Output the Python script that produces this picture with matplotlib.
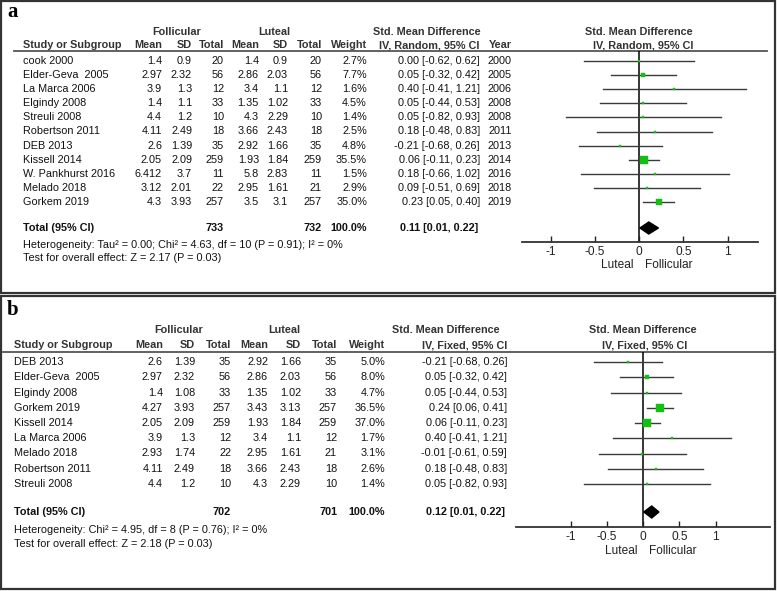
import matplotlib
matplotlib.use("Agg")
import matplotlib.pyplot as plt
from matplotlib.patches import Polygon, Rectangle

plt.rcParams['font.family'] = ['Liberation Sans', 'DejaVu Sans']

# ---------------- data: panel a (random effects) ----------------
studies_a = ["cook 2000", "Elder-Geva  2005", "La Marca 2006", "Elgindy 2008", "Streuli 2008",
             "Robertson 2011", "DEB 2013", "Kissell 2014", "W. Pankhurst 2016", "Melado 2018", "Gorkem 2019"]
fol_mean_a = ["1.4", "2.97", "3.9", "1.4", "4.4", "4.11", "2.6", "2.05", "6.412", "3.12", "4.3"]
fol_sd_a = ["0.9", "2.32", "1.3", "1.1", "1.2", "2.49", "1.39", "2.09", "3.7", "2.01", "3.93"]
fol_n_a = [20, 56, 12, 33, 10, 18, 35, 259, 11, 22, 257]
lut_mean_a = ["1.4", "2.86", "3.4", "1.35", "4.3", "3.66", "2.92", "1.93", "5.8", "2.95", "3.5"]
lut_sd_a = ["0.9", "2.03", "1.1", "1.02", "2.29", "2.43", "1.66", "1.84", "2.83", "1.61", "3.1"]
lut_n_a = [20, 56, 12, 33, 10, 18, 35, 259, 11, 21, 257]
weight_a = [2.7, 7.7, 1.6, 4.5, 1.4, 2.5, 4.8, 35.5, 1.5, 2.9, 35.0]
smd_a = [0.00, 0.05, 0.40, 0.05, 0.05, 0.18, -0.21, 0.06, 0.18, 0.09, 0.23]
lo_a = [-0.62, -0.32, -0.41, -0.44, -0.82, -0.48, -0.68, -0.11, -0.66, -0.51, 0.05]
hi_a = [0.62, 0.42, 1.21, 0.53, 0.93, 0.83, 0.26, 0.23, 1.02, 0.69, 0.40]
year_a = [2000, 2005, 2006, 2008, 2008, 2011, 2013, 2014, 2016, 2018, 2019]
total_a = (733, 732, 0.11, 0.01, 0.22)
het_a = "Heterogeneity: Tau\u00b2 = 0.00; Chi\u00b2 = 4.63, df = 10 (P = 0.91); I\u00b2 = 0%"
test_a = "Test for overall effect: Z = 2.17 (P = 0.03)"

# ---------------- data: panel b (fixed effects) ----------------
studies_b = ["DEB 2013", "Elder-Geva  2005", "Elgindy 2008", "Gorkem 2019", "Kissell 2014",
             "La Marca 2006", "Melado 2018", "Robertson 2011", "Streuli 2008"]
fol_mean_b = ["2.6", "2.97", "1.4", "4.27", "2.05", "3.9", "2.93", "4.11", "4.4"]
fol_sd_b = ["1.39", "2.32", "1.08", "3.93", "2.09", "1.3", "1.74", "2.49", "1.2"]
fol_n_b = [35, 56, 33, 257, 259, 12, 22, 18, 10]
lut_mean_b = ["2.92", "2.86", "1.35", "3.43", "1.93", "3.4", "2.95", "3.66", "4.3"]
lut_sd_b = ["1.66", "2.03", "1.02", "3.13", "1.84", "1.1", "1.61", "2.43", "2.29"]
lut_n_b = [35, 56, 33, 257, 259, 12, 21, 18, 10]
weight_b = [5.0, 8.0, 4.7, 36.5, 37.0, 1.7, 3.1, 2.6, 1.4]
smd_b = [-0.21, 0.05, 0.05, 0.24, 0.06, 0.40, -0.01, 0.18, 0.05]
lo_b = [-0.68, -0.32, -0.44, 0.06, -0.11, -0.41, -0.61, -0.48, -0.82]
hi_b = [0.26, 0.42, 0.53, 0.41, 0.23, 1.21, 0.59, 0.83, 0.93]
total_b = (702, 701, 0.12, 0.01, 0.22)
het_b = "Heterogeneity: Chi\u00b2 = 4.95, df = 8 (P = 0.76); I\u00b2 = 0%"
test_b = "Test for overall effect: Z = 2.18 (P = 0.03)"

tick_vals = [-1, -0.5, 0, 0.5, 1]
tick_labels = ["-1", "-0.5", "0", "0.5", "1"]

W, H = 777, 591
fig = plt.figure(figsize=(W / 100, H / 100), dpi=100)
ax0 = fig.add_axes([0, 0, 1, 1])
ax0.set_xlim(0, W)
ax0.set_ylim(H, 0)
ax0.axis('off')

FS = 7.8
AXFS = 8.6
GREEN = '#12c012'
LINE = '#3a3a3a'


def t(x, y, s, ha='left', bold=False, **kw):
    ax0.text(x, y, s, ha=ha, va='center', fontsize=kw.pop('fs', FS),
             fontweight='bold' if bold else 'normal', color=kw.pop('color', '#111111'), **kw)


def ci_str(m, l, h):
    return f"{m:.2f} [{l:.2f}, {h:.2f}]"


def panel(cfg):
    # border
    x0, y0, x1, y1 = cfg['border']
    ax0.add_patch(Rectangle((x0, y0), x1 - x0, y1 - y0, fill=False, lw=1.6, ec='#333333'))
    ax0.text(cfg['label_xy'][0], cfg['label_xy'][1], cfg['label'], fontsize=15, fontweight='bold',
             family=['Liberation Serif', 'DejaVu Serif'], ha='left', va='baseline')
    c = cfg['cols']
    r0, dr = cfg['row0'], cfg['dr']
    rowy = lambda i: r0 + dr * i
    # group headers
    t(cfg['fol_c'], cfg['grp_y'], "Follicular", ha='center', bold=True, color='#333333')
    t(cfg['lut_c'], cfg['grp_y'], "Luteal", ha='center', bold=True, color='#333333')
    t(cfg['smd_hdr'][0], cfg['grp_y'], "Std. Mean Difference", ha='center', bold=True, color='#333333')
    t(cfg['plot_c'], cfg['grp_y'], "Std. Mean Difference", ha='center', bold=True, color='#333333')
    hy = cfg['hdr_y']
    t(c['study'], hy, "Study or Subgroup", bold=True, color='#333333')
    for key, lab in [('fm', 'Mean'), ('fs', 'SD'), ('fn', 'Total'), ('lm', 'Mean'), ('ls', 'SD'),
                     ('ln', 'Total'), ('w', 'Weight')]:
        t(c[key], hy, lab, ha='right', bold=True, color='#333333')
    t(cfg['smd_hdr'][1], hy, cfg['method'], ha='center', bold=True, color='#333333')
    if cfg.get('year') is not None:
        t(c['year'], hy, "Year", ha='right', bold=True, color='#333333')
    t(cfg['plot_c2'], hy, cfg['method'], ha='center', bold=True, color='#333333')
    ax0.plot([cfg['hline'][0], cfg['hline'][1]], [cfg['hline_y']] * 2, color='#555555', lw=1.3)

    d = cfg['data']
    n = len(d['studies'])
    for i in range(n):
        y = rowy(i)
        t(c['study'], y, d['studies'][i])
        t(c['fm'], y, d['fm'][i], ha='right')
        t(c['fs'], y, d['fs'][i], ha='right')
        t(c['fn'], y, str(d['fn'][i]), ha='right')
        t(c['lm'], y, d['lm'][i], ha='right')
        t(c['ls'], y, d['ls'][i], ha='right')
        t(c['ln'], y, str(d['ln'][i]), ha='right')
        t(c['w'], y, f"{d['w'][i]:.1f}%", ha='right')
        t(c['ci'], y, ci_str(d['smd'][i], d['lo'][i], d['hi'][i]), ha='right')
        if cfg.get('year') is not None:
            t(c['year'], y, str(cfg['year'][i]), ha='right')
    ty = cfg['total_y']
    tot = d['total']
    t(c['study'], ty, "Total (95% CI)", bold=True)
    t(c['fn'], ty, str(tot[0]), ha='right', bold=True)
    t(c['ln'], ty, str(tot[1]), ha='right', bold=True)
    t(c['w'], ty, "100.0%", ha='right', bold=True)
    t(c['ci'] - 2, ty, ci_str(tot[2], tot[3], tot[4]), ha='right', bold=True)
    t(c['study'], cfg['het_y'], d['het'])
    t(c['study'], cfg['test_y'], d['test'])

    # forest axes
    px_l, px_r, px_t, px_b = cfg['ax_px']
    zero, scale = cfg['zero'], cfg['scale']
    axf = fig.add_axes([px_l / W, 1 - px_b / H, (px_r - px_l) / W, (px_b - px_t) / H])
    axf.set_xlim((px_l - zero) / scale, (px_r - zero) / scale)
    axf.set_ylim((px_b - r0) / dr, (px_t - r0) / dr)
    axf.patch.set_alpha(0)
    for s in ['top', 'left', 'right']:
        axf.spines[s].set_visible(False)
    axf.spines['bottom'].set_linewidth(1.3)
    axf.spines['bottom'].set_color('#333333')
    axf.set_yticks([])
    axf.set_xticks(tick_vals)
    axf.set_xticklabels(tick_labels, fontsize=AXFS)
    axf.tick_params(axis='x', direction='in', length=4, width=1, pad=3, colors='#222222')
    axf.axvline(0, color='black', lw=1.1, zorder=1)
    for i in range(n):
        axf.plot([d['lo'][i], d['hi'][i]], [i, i], color=LINE, lw=1.0, zorder=2, clip_on=False)
        ms = max(0.85 * d['w'][i] ** 0.5, 1.5)
        axf.plot(d['smd'][i], i, marker='s', ms=ms, color=GREEN, mec=GREEN, mew=0.3, zorder=3)
    yt = (ty - r0) / dr
    hh = 6.0 / dr
    axf.add_patch(Polygon([(tot[3], yt), (tot[2], yt - hh), (tot[4], yt), (tot[2], yt + hh)],
                          closed=True, color='black', zorder=4))
    # direction labels
    t(zero - 6, cfg['dir_y'], "Luteal", ha='right', fs=AXFS, color='#222222')
    t(zero + 6, cfg['dir_y'], "Follicular", ha='left', fs=AXFS, color='#222222')


cfg_a = dict(
    border=(1, 1, 775, 293), label='a', label_xy=(7, 17),
    cols=dict(study=23, fm=162, fs=192, fn=224, lm=259, ls=288, ln=322, w=367, ci=480, year=512),
    row0=61, dr=14.1, fol_c=177, lut_c=274, grp_y=32, hdr_y=45,
    smd_hdr=(427, 429), plot_c=639, plot_c2=643, method="IV, Random, 95% CI",
    hline=(14, 767), hline_y=51, year=year_a,
    total_y=228, het_y=245, test_y=258, dir_y=265,
    ax_px=(522, 758, 51, 242), zero=639, scale=88.5,
    data=dict(studies=studies_a, fm=fol_mean_a, fs=fol_sd_a, fn=fol_n_a, lm=lut_mean_a, ls=lut_sd_a,
              ln=lut_n_a, w=weight_a, smd=smd_a, lo=lo_a, hi=hi_a, total=total_a, het=het_a, test=test_a),
)

cfg_b = dict(
    border=(1, 296, 775, 589), label='b', label_xy=(7, 315),
    cols=dict(study=14, fm=163, fs=195, fn=231, lm=268, ls=301, ln=337, w=385, ci=507),
    row0=362, dr=15.25, fol_c=179, lut_c=284, grp_y=330, hdr_y=345,
    smd_hdr=(446, 465), plot_c=643, plot_c2=645, method="IV, Fixed, 95% CI",
    hline=(3, 773), hline_y=352, year=None,
    total_y=512, het_y=530, test_y=544, dir_y=551,
    ax_px=(516, 770, 352, 527), zero=643, scale=72.5,
    data=dict(studies=studies_b, fm=fol_mean_b, fs=fol_sd_b, fn=fol_n_b, lm=lut_mean_b, ls=lut_sd_b,
              ln=lut_n_b, w=weight_b, smd=smd_b, lo=lo_b, hi=hi_b, total=total_b, het=het_b, test=test_b),
)

panel(cfg_a)
panel(cfg_b)

fig.savefig("out.png", dpi=100)
